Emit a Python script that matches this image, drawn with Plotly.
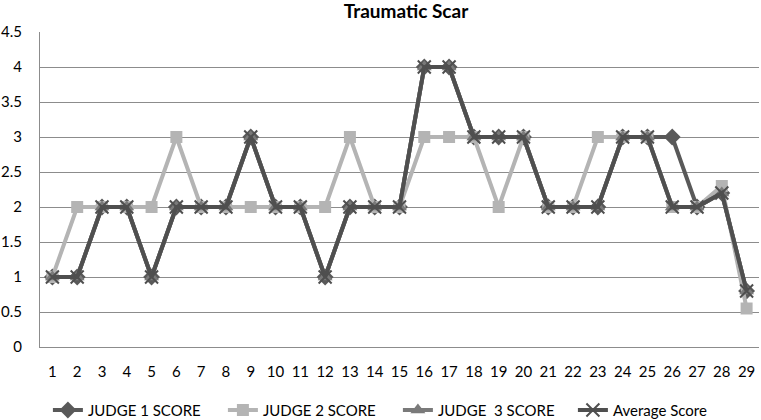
import plotly.graph_objects as go

categories = list(range(1, 30))
judge1 = [1, 1, 2, 2, 1, 2, 2, 2, 3, 2, 2, 1, 2, 2, 2, 4, 4, 3, 3, 3, 2, 2, 2, 3, 3, 3, 2, 2.2, 0.8]
judge2 = [1, 2, 2, 2, 2, 3, 2, 2, 2, 2, 2, 2, 3, 2, 2, 3, 3, 3, 2, 3, 2, 2, 3, 3, 3, 2, 2, 2.3, 0.55]
judge3 = [1, 1, 2, 2, 1, 2, 2, 2, 3, 2, 2, 1, 2, 2, 2, 4, 4, 3, 3, 3, 2, 2, 2, 3, 3, 2, 2, 2.2, 0.8]
average = [1, 1, 2, 2, 1, 2, 2, 2, 3, 2, 2, 1, 2, 2, 2, 4, 4, 3, 3, 3, 2, 2, 2, 3, 3, 2, 2, 2.2, 0.8]
y_ticks = [0, 0.5, 1, 1.5, 2, 2.5, 3, 3.5, 4, 4.5]

FONT = "Lato"

fig = go.Figure()
fig.add_trace(go.Scatter(x=categories, y=judge1, name="JUDGE 1 SCORE", mode="lines+markers",
                         line=dict(color="#595959", width=4), cliponaxis=False,
                         marker=dict(symbol="diamond", size=13, color="#595959")))
fig.add_trace(go.Scatter(x=categories, y=judge2, name="JUDGE 2 SCORE", mode="lines+markers",
                         line=dict(color="#b4b4b4", width=4), cliponaxis=False,
                         marker=dict(symbol="square", size=12, color="#b4b4b4")))
fig.add_trace(go.Scatter(x=categories, y=judge3, name="JUDGE  3 SCORE", mode="lines+markers",
                         line=dict(color="#7a7a7a", width=4), cliponaxis=False,
                         marker=dict(symbol="triangle-up", size=13, color="#7a7a7a")))
fig.add_trace(go.Scatter(x=categories, y=average, name="Average Score", mode="lines+markers",
                         line=dict(color="#4f4f4f", width=4), cliponaxis=False,
                         marker=dict(symbol="x-thin", size=13, color="#4f4f4f",
                                     line=dict(color="#4f4f4f", width=2))))

fig.update_layout(
    width=761, height=420,
    margin=dict(l=40, r=2, t=32, b=73, autoexpand=False),
    paper_bgcolor="white", plot_bgcolor="white",
    font=dict(family=FONT, color="#000000", size=15),
    title=dict(text="<b>Traumatic Scar</b>", x=406 / 761, xanchor="center", y=1 - 11.5 / 420,
               yanchor="middle", font=dict(family=FONT, size=19, color="#000")),
    showlegend=True,
    legend=dict(orientation="h", x=0.011, xanchor="left", y=-0.201, yanchor="middle",
                font=dict(family=FONT, size=15, color="#000"), tracegroupgap=0,
                entrywidth=130, entrywidthmode="pixels"),
    xaxis=dict(range=[0.5, 29.5], tickmode="array", tickvals=categories,
               ticktext=[str(c) for c in categories], showgrid=False, zeroline=False,
               showline=True, linecolor="#8c8c8c", linewidth=1, ticks="", ticklabelstandoff=11,
               tickfont=dict(size=15), automargin=False),
    yaxis=dict(range=[0, 4.5], tickmode="array", tickvals=y_ticks,
               ticktext=[("%g" % v) for v in y_ticks], showgrid=True, gridcolor="#8c8c8c",
               gridwidth=1, zeroline=False, showline=True, linecolor="#8c8c8c", linewidth=1,
               ticks="", ticklabelstandoff=14, tickfont=dict(size=15), automargin=False),
)

fig.write_html("out.html", post_script="document.body.style.margin='0';",
               config={"displayModeBar": False})
